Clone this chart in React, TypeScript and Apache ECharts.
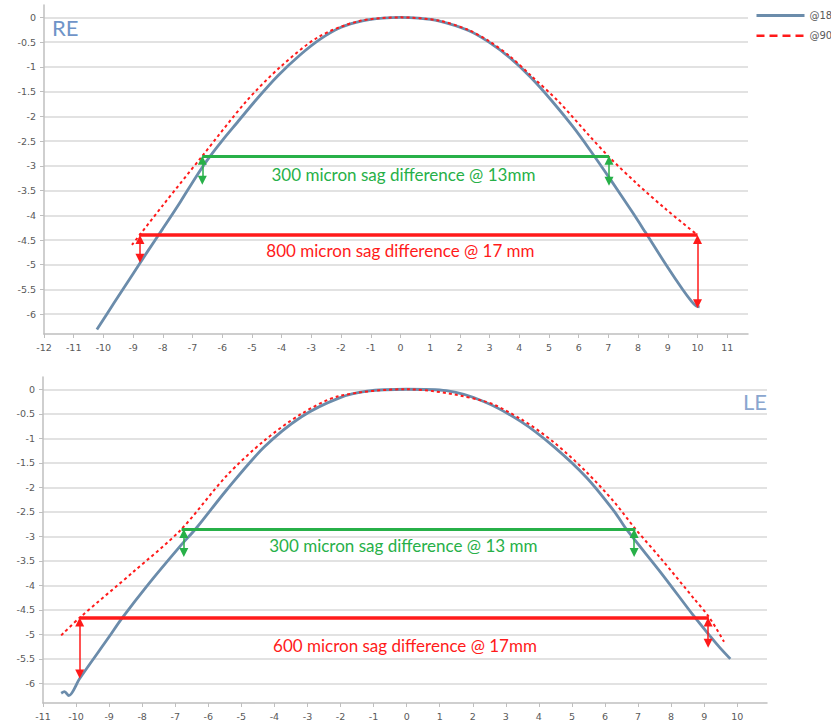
import React, { useEffect, useRef } from 'react';
import * as echarts from 'echarts';

type Pt = [number, number];

// ---- data ----
const seriesNames = ['@180', '@90'];

const reBlue: Pt[] = [
  [-10.22, -6.31], [-9.65, -5.78], [-9.0, -5.18], [-8.5, -4.72], [-8.0, -4.27], [-7.4, -3.72],
  [-6.9, -3.24], [-6.45, -2.84], [-6.0, -2.49], [-5.53, -2.15], [-4.82, -1.64], [-4.11, -1.17],
  [-3.4, -0.77], [-2.7, -0.44], [-2.0, -0.2], [-1.28, -0.07], [-0.6, -0.015], [0, 0],
  [0.6, -0.015], [1.28, -0.07], [2.27, -0.26], [2.98, -0.5], [3.69, -0.82], [4.4, -1.22],
  [5.1, -1.69], [5.82, -2.22], [6.38, -2.68], [7.05, -3.26], [7.8, -3.93], [8.23, -4.33],
  [8.94, -5.0], [9.5, -5.5], [9.8, -5.74], [9.95, -5.83], [10.07, -5.85],
];
const reRed: Pt[] = [
  [-9.04, -4.6], [-8.0, -3.8], [-6.67, -2.8], [-5.18, -1.69], [-4.04, -1.0], [-2.77, -0.4],
  [-1.42, -0.08], [0, 0], [1.28, -0.065], [2.27, -0.25], [2.98, -0.48], [3.69, -0.79],
  [4.4, -1.18], [5.32, -1.7], [6.31, -2.36], [7.02, -2.82], [7.94, -3.35], [8.94, -3.88], [10.0, -4.4],
];
const leBlue: Pt[] = [
  [-10.45, -6.2], [-10.35, -6.17], [-10.22, -6.25], [-9.89, -5.9], [-9.0, -5.05], [-8.62, -4.68],
  [-7.84, -4.0], [-6.85, -3.2], [-6.36, -2.83], [-5.44, -2.05], [-4.31, -1.18], [-3.18, -0.56],
  [-2.05, -0.18], [-1.2, -0.04], [0, 0], [1.2, -0.03], [2.33, -0.25], [3.46, -0.66],
  [4.45, -1.17], [5.44, -1.8], [6.29, -2.5], [6.64, -2.85], [7.7, -3.75], [8.69, -4.63],
  [9.11, -4.98], [9.46, -5.26], [9.79, -5.5],
];
const leRed: Pt[] = [
  [-10.45, -5.02], [-9.89, -4.66], [-8.26, -3.72], [-6.85, -2.88], [-5.44, -1.76], [-4.31, -1.05],
  [-3.18, -0.5], [-2.05, -0.14], [0, 0], [2.33, -0.24], [3.46, -0.61], [4.45, -1.08],
  [5.44, -1.69], [6.29, -2.31], [6.92, -2.85], [7.7, -3.46], [8.69, -4.27], [9.14, -4.64], [9.6, -5.15],
];

// annotation lines (data coordinates)
const reGreenBar: Pt[][] = [[[-6.67, -2.8], [7.02, -2.8]]];
const reGreenArrows: Pt[][] = [[[-6.67, -2.8], [-6.67, -3.38]], [[7.02, -2.8], [7.02, -3.4]]];
const reRedBar: Pt[][] = [[[-8.79, -4.4], [10.0, -4.4]]];
const reRedArrows: Pt[][] = [[[-8.77, -4.4], [-8.77, -4.96]], [[10.0, -4.4], [10.0, -5.88]]];
const leGreenBar: Pt[][] = [[[-6.81, -2.85], [6.92, -2.85]]];
const leGreenArrows: Pt[][] = [[[-6.74, -2.85], [-6.74, -3.42]], [[6.88, -2.85], [6.88, -3.42]]];
const leRedBar: Pt[][] = [[[-9.89, -4.66], [9.14, -4.66]]];
const leRedArrows: Pt[][] = [[[-9.89, -4.66], [-9.89, -5.9]], [[9.12, -4.66], [9.12, -5.27]]];

const reNotes = [
  { text: '300 micron sag difference @ 13mm', x: 0.1, y: -3.17, kind: 'green' },
  { text: '800 micron sag difference @ 17 mm', x: 0.0, y: -4.71, kind: 'red' },
];
const leNotes = [
  { text: '300 micron sag difference @ 13 mm', x: -0.1, y: -3.18, kind: 'green' },
  { text: '600 micron sag difference @ 17mm', x: -0.05, y: -5.22, kind: 'red' },
];

const xRanges: Pt[] = [[-12, 11.7], [-11, 10.9]];
const yRange: Pt = [-6.4, 0.25];

// ---- styles ----
const BLUE = '#6b8cab';
const RED = '#ff1a1a';
const GREEN = '#27b048';
const AXIS = '#bfbfbf';
const GRID = '#d9d9d9';
const LABEL = '#595959';

export default function App() {
  const ref = useRef<HTMLDivElement>(null);

  useEffect(() => {
    if (!ref.current) return;
    const chart = echarts.init(ref.current, undefined, { renderer: 'svg' });

    const tipInset = 0.09;
    const arrowPairs = (pairs: Pt[][]) =>
      pairs.map(([a, b]) => {
        const dir = b[1] < a[1] ? -1 : 1;
        return [
          { coord: [a[0], a[1] + dir * tipInset] },
          { coord: [b[0], b[1] - dir * tipInset] },
        ];
      });

    const annot = (gi: number, color: string, width: number, pairs: Pt[][], arrows: boolean) => ({
      type: 'line',
      xAxisIndex: gi,
      yAxisIndex: gi,
      data: [],
      silent: true,
      markLine: {
        silent: true,
        animation: false,
        symbol: arrows ? ['triangle', 'triangle'] : ['none', 'none'],
        symbolSize: [9, 9],
        label: { show: false },
        emphasis: { disabled: true },
        lineStyle: { color, width, type: 'solid', opacity: 1 },
        itemStyle: { color },
        data: arrows ? arrowPairs(pairs) : pairs.map(([a, b]) => [{ coord: a }, { coord: b }]),
      },
    });

    const notes = (gi: number, list: typeof reNotes) => ({
      type: 'line',
      xAxisIndex: gi,
      yAxisIndex: gi,
      data: [],
      silent: true,
      markPoint: {
        silent: true,
        animation: false,
        symbol: 'rect',
        symbolSize: 1,
        itemStyle: { color: 'rgba(0,0,0,0)' },
        label: { show: true, position: 'inside', formatter: '{b}', fontSize: 17, fontFamily: 'Lato' },
        data: list.map((n) => ({
          name: n.text,
          coord: [n.x, n.y],
          label: { color: n.kind === 'green' ? GREEN : RED },
        })),
      },
    });

    const xAxis = (gi: number) => ({
      type: 'value',
      gridIndex: gi,
      min: xRanges[gi][0],
      max: xRanges[gi][1],
      minInterval: 1,
      maxInterval: 1,
      axisLine: { show: true, onZero: false, lineStyle: { color: AXIS, width: 1.5 } },
      axisTick: { show: true, length: 4, lineStyle: { color: AXIS } },
      axisLabel: { color: LABEL, fontSize: 9.5, fontFamily: 'DejaVu Sans', margin: 8, showMaxLabel: false, showMinLabel: true },
      splitLine: { show: false },
    });
    const yAxis = (gi: number) => ({
      type: 'value',
      gridIndex: gi,
      min: yRange[0],
      max: yRange[1],
      minInterval: 0.5,
      maxInterval: 0.5,
      axisLine: { show: true, onZero: false, lineStyle: { color: AXIS, width: 1.5 } },
      axisTick: { show: true, length: 4, lineStyle: { color: AXIS } },
      axisLabel: { color: LABEL, fontSize: 9.5, fontFamily: 'DejaVu Sans', margin: 8, showMinLabel: false, showMaxLabel: false },
      splitLine: { show: true, showMinLine: false, showMaxLine: false, lineStyle: { color: GRID, width: 1.5 } },
    });

    const curve = (gi: number, name: string, data: Pt[], dashed: boolean) => ({
      name,
      type: 'line',
      xAxisIndex: gi,
      yAxisIndex: gi,
      data,
      smooth: 0.3,
      symbol: 'none',
      showSymbol: false,
      z: dashed ? 4 : 3,
      lineStyle: dashed ? { color: RED, width: 2, type: [3, 3] } : { color: BLUE, width: 2.8 },
      itemStyle: { color: dashed ? RED : BLUE },
    });

    chart.setOption({
      animation: false,
      backgroundColor: '#ffffff',
      grid: [
        { left: 44, top: 5, width: 704, height: 329, outerBoundsMode: 'none' },
        { left: 43, top: 377, width: 724, height: 326, outerBoundsMode: 'none' },
      ],
      xAxis: [xAxis(0), xAxis(1)],
      yAxis: [yAxis(0), yAxis(1)],
      legend: {
        orient: 'vertical',
        left: 755,
        top: 10,
        padding: 0,
        itemWidth: 48,
        itemHeight: 14,
        itemGap: 9,
        selectedMode: false,
        itemStyle: { color: 'rgba(0,0,0,0)', borderColor: 'rgba(0,0,0,0)', borderWidth: 0, opacity: 0 },
        textStyle: { color: LABEL, fontSize: 10, fontFamily: 'DejaVu Sans', padding: [0, 0, 0, 0] },
        data: [
          { name: seriesNames[0], lineStyle: { width: 3 } },
          { name: seriesNames[1], lineStyle: { width: 2.5, type: [8, 5] } },
        ],
      },
      graphic: [
        { type: 'text', left: 52, top: 16, style: { text: 'RE', fontSize: 22, fontFamily: 'Lato', fill: '#6f94c8' } },
        { type: 'text', right: 64, top: 390, style: { text: 'LE', fontSize: 22, fontFamily: 'Lato', fill: '#8aa6cf' } },
      ],
      series: [
        curve(0, seriesNames[0], reBlue, false),
        curve(0, seriesNames[1], reRed, true),
        curve(1, seriesNames[0], leBlue, false),
        curve(1, seriesNames[1], leRed, true),
        annot(0, GREEN, 3, reGreenBar, false),
        annot(0, GREEN, 1.5, reGreenArrows, true),
        annot(0, RED, 3.5, reRedBar, false),
        annot(0, RED, 1.5, reRedArrows, true),
        annot(1, GREEN, 3, leGreenBar, false),
        annot(1, GREEN, 1.5, leGreenArrows, true),
        annot(1, RED, 3.5, leRedBar, false),
        annot(1, RED, 1.5, leRedArrows, true),
        notes(0, reNotes),
        notes(1, leNotes),
      ],
    });

    return () => chart.dispose();
  }, []);

  return (
    <div
      ref={ref}
      style={{ position: 'absolute', left: 0, top: 0, width: 831, height: 726, background: '#fff' }}
    />
  );
}
